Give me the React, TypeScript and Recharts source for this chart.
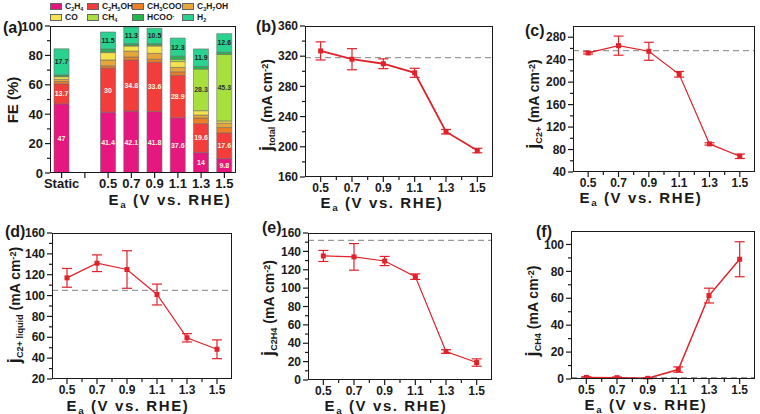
import React from "react";
import {
  BarChart,
  Bar,
  LineChart,
  Line,
  XAxis,
  YAxis,
  ErrorBar,
  ReferenceLine,
  LabelList,
} from "recharts";

// panel (a): Faradaic efficiency (%)
const categories = ["Static", "", "0.5", "0.7", "0.9", "1.1", "1.3", "1.5"];
const feC2H4 = [47, null, 41.4, 42.1, 41.8, 37.6, 14, 9.8];
const feC2H5OH = [13.7, null, 30, 34.8, 33.6, 28.9, 19.6, 17.6];
const feCH3COO = [1.5, null, 1.5, 2, 2, 2.3, 3.8, 3.5];
const feC3H7OH = [1.5, null, 4, 4, 4, 3, 2, 3];
const feCO = [1.8, null, 5, 3.5, 5, 4, 3, 1.5];
const feCH4 = [0.3, null, 0.5, 0.4, 0.6, 1.5, 28.3, 45.3];
const feHCOO = [1, null, 2, 1.2, 1, 2.2, 1.8, 1.5];
const feH2 = [17.7, null, 11.5, 11.3, 10.5, 12.3, 11.9, 12.6];

// panels (b)-(f): partial current densities vs Ea
const potentials = [0.5, 0.7, 0.9, 1.1, 1.3, 1.5];
const jTotal = [327, 316, 310, 298, 220, 195];
const jTotalErr = [12, 14, 6.5, 6, 3, 3];
const jC2 = [252, 265, 255, 214, 90, 68];
const jC2Err = [2, 17, 16, 5, 2, 4];
const jLiquid = [117, 131, 125, 101, 59.5, 48.5];
const jLiquidErr = [9, 8, 18, 10, 4, 9];
const jC2H4 = [135, 134, 129.5, 112.5, 31, 19];
const jC2H4Err = [6, 14.5, 5, 3, 2, 4];
const jCH4 = [1.2, 1.0, 0.5, 7, 62, 89];
const jCH4Err = [0.5, 0.5, 0.3, 2, 5.5, 13];
// static-electrolysis reference values (dashed lines)
const staticTotal = 318;
const staticC2 = 256;
const staticLiquid = 105;
const staticC2H4 = 152;
const staticCH4 = 1;

const xMajor = [0.5, 0.7, 0.9, 1.1, 1.3, 1.5];
const xMinor = [0.6, 0.8, 1.0, 1.2, 1.4];

const FONT = "'Liberation Sans', Arial, sans-serif";
const INK = "#1a1a1a";
const RED = "#e0222a";

const products = [
  { key: "C2H4", color: "#e6177f", values: feC2H4 },
  { key: "C2H5OH", color: "#f23d3b", values: feC2H5OH },
  { key: "CH3COO", color: "#f07e22", values: feCH3COO },
  { key: "C3H7OH", color: "#e6a63a", values: feC3H7OH },
  { key: "CO", color: "#f6e24c", values: feCO },
  { key: "CH4", color: "#a7e03c", values: feCH4 },
  { key: "HCOO", color: "#1fb84c", values: feHCOO },
  { key: "H2", color: "#29d38f", values: feH2 },
];

const barData = categories.map((cat, i) => {
  const row: any = { cat };
  products.forEach((p) => (row[p.key] = p.values[i]));
  return row;
});

const near = (a: number, list: number[]) => list.some((v) => Math.abs(v - a) < 1e-6);

function makeYTick(majors: number[], fontSize: number) {
  return (props: any) => {
    const { x, y, payload } = props;
    const major = near(payload.value, majors);
    return (
      <g>
        <line x1={x} x2={x - (major ? 5 : 3)} y1={y} y2={y} stroke={INK} strokeWidth={1.2} />
        {major && (
          <text x={x - 7} y={y} dy="0.35em" textAnchor="end" fontSize={fontSize} fontWeight="bold" fill={INK} fontFamily={FONT}>
            {payload.value}
          </text>
        )}
      </g>
    );
  };
}

function makeXTick(majors: number[] | null, fontSize: number) {
  return (props: any) => {
    const { x, y, payload } = props;
    const major = majors ? near(payload.value, majors) : true;
    const label = majors ? payload.value.toFixed(1) : payload.value;
    return (
      <g>
        <line x1={x} x2={x} y1={y} y2={y + (major ? 5 : 3)} stroke={INK} strokeWidth={1.2} />
        {major && (
          <text x={x} y={y + 6} dy="0.71em" textAnchor="middle" fontSize={fontSize} fontWeight="bold" fill={INK} fontFamily={FONT}>
            {label}
          </text>
        )}
      </g>
    );
  };
}

const Square = (props: any) => {
  const { cx, cy, index } = props;
  if (cx == null || cy == null) return <g key={index} />;
  return <rect key={index} x={cx - 2.5} y={cy - 2.5} width={5} height={5} fill={RED} />;
};

const Frame = ({ l, t, r, b }: { l: number; t: number; r: number; b: number }) => (
  <div
    style={{
      position: "absolute",
      left: l,
      top: t,
      width: r - l,
      height: b - t,
      border: `1.2px solid ${INK}`,
      boxSizing: "border-box",
      pointerEvents: "none",
    }}
  />
);

const text: React.CSSProperties = {
  position: "absolute",
  fontFamily: FONT,
  fontWeight: "bold",
  color: INK,
  whiteSpace: "nowrap",
  lineHeight: 1,
};

// sub/superscripts that do not grow the line box
const Sub = ({ children }: { children: React.ReactNode }) => (
  <span style={{ fontSize: "0.65em", position: "relative", top: "0.3em" }}>{children}</span>
);
const Sup = ({ children }: { children: React.ReactNode }) => (
  <span style={{ fontSize: "0.65em", position: "relative", top: "-0.45em" }}>{children}</span>
);

const YTitle = ({ cx, cy, size = 14, children }: { cx: number; cy: number; size?: number; children: React.ReactNode }) => (
  <div style={{ ...text, left: cx, top: cy, fontSize: size, transform: "translate(-50%, -50%) rotate(-90deg)" }}>{children}</div>
);

const XTitle = ({ cx, cy }: { cx: number; cy: number }) => (
  <div style={{ ...text, left: cx, top: cy, fontSize: 15, letterSpacing: 1.6, transform: "translate(-50%, -50%)" }}>
    E<Sub>a</Sub> (V vs. RHE)
  </div>
);

const Letter = ({ x, y, children }: { x: number; y: number; children: React.ReactNode }) => (
  <div style={{ ...text, left: x, top: y, fontSize: 16, transform: "translateY(-50%)" }}>{children}</div>
);

type PanelProps = {
  box: { l: number; t: number; r: number; b: number };
  values: number[];
  errors: number[];
  dash: number;
  yDomain: [number, number];
  yMajor: number[];
  yMinor: number[];
  strokeWidth?: number;
};

function LinePanel({ box, values, errors, dash, yDomain, yMajor, yMinor, strokeWidth = 1.5 }: PanelProps) {
  const data = potentials.map((x, i) => ({ x, y: values[i], err: errors[i] }));
  const padL = 50, padT = 8, padR = 6, padB = 24;
  const w = box.r - box.l + padL + padR;
  const h = box.b - box.t + padT + padB;
  return (
    <>
      <div style={{ position: "absolute", left: box.l - padL, top: box.t - padT }}>
        <LineChart width={w} height={h} data={data} margin={{ top: padT, right: padR, bottom: 2, left: 10 }}>
          <XAxis
            dataKey="x"
            type="number"
            domain={[0.4, 1.6]}
            allowDataOverflow
            ticks={[...xMajor, ...xMinor].sort((a, b) => a - b)}
            interval={0}
            height={22}
            axisLine={false}
            tickLine={false}
            tickSize={0}
            tickMargin={0}
            tick={makeXTick(xMajor, 12)}
          />
          <YAxis
            type="number"
            domain={yDomain}
            allowDataOverflow
            ticks={[...yMajor, ...yMinor].sort((a, b) => a - b)}
            interval={0}
            width={40}
            axisLine={false}
            tickLine={false}
            tickSize={0}
            tickMargin={0}
            tick={makeYTick(yMajor, 12)}
          />
          <ReferenceLine y={dash} stroke="#9a9a9a" strokeWidth={1.2} strokeDasharray="6 4" />
          <Line
            type="linear"
            dataKey="y"
            stroke={RED}
            strokeWidth={strokeWidth}
            dot={Square}
            activeDot={false}
            isAnimationActive={false}
          >
            <ErrorBar dataKey="err" width={5} stroke={RED} strokeWidth={1.2} direction="y" />
          </Line>
        </LineChart>
      </div>
      <Frame {...box} />
    </>
  );
}

const labelStyle = { fontSize: 7, fontWeight: "bold", fontFamily: FONT };
const showAll = (v: any) => (v == null ? "" : v);
const showBig = (v: any) => (v == null || v < 10 ? "" : v);

function FEPanel() {
  const box = { l: 50, t: 26, r: 236, b: 173 };
  const padL = 50, padT = 8, padR = 6, padB = 24;
  const w = box.r - box.l + padL + padR;
  const h = box.b - box.t + padT + padB;
  return (
    <>
      <div style={{ position: "absolute", left: box.l - padL, top: box.t - padT }}>
        <BarChart width={w} height={h} data={barData} margin={{ top: padT, right: padR, bottom: 2, left: 10 }}>
          <XAxis
            dataKey="cat"
            type="category"
            interval={0}
            height={22}
            axisLine={false}
            tickLine={false}
            tickSize={0}
            tickMargin={0}
            tick={makeXTick(null, 13)}
          />
          <YAxis
            type="number"
            domain={[0, 100]}
            allowDataOverflow
            ticks={[0, 10, 20, 30, 40, 50, 60, 70, 80, 90, 100]}
            interval={0}
            width={40}
            axisLine={false}
            tickLine={false}
            tickSize={0}
            tickMargin={0}
            tick={makeYTick([0, 20, 40, 60, 80, 100], 13)}
          />
          {products.map((p) => (
            <Bar key={p.key} dataKey={p.key} stackId="fe" fill={p.color} stroke="#6b6b6b" strokeWidth={0.6} barSize={15} isAnimationActive={false}>
              {(p.key === "C2H4" || p.key === "C2H5OH") && (
                <LabelList dataKey={p.key} position="center" fill="#fff8e0" formatter={showAll} style={labelStyle} />
              )}
              {p.key === "CH4" && <LabelList dataKey={p.key} position="center" fill="#333" formatter={showBig} style={labelStyle} />}
              {p.key === "H2" && <LabelList dataKey={p.key} position="center" fill="#222" formatter={showAll} style={labelStyle} />}
            </Bar>
          ))}
        </BarChart>
      </div>
      <Frame {...box} />
    </>
  );
}

const legendItems: { color: string; label: React.ReactNode }[] = [
  { color: products[0].color, label: <>C<Sub>2</Sub>H<Sub>4</Sub></> },
  { color: products[1].color, label: <>C<Sub>2</Sub>H<Sub>5</Sub>OH</> },
  { color: products[2].color, label: <>CH<Sub>3</Sub>COO<Sup>-</Sup></> },
  { color: products[3].color, label: <>C<Sub>3</Sub>H<Sub>7</Sub>OH</> },
  { color: products[4].color, label: <>CO</> },
  { color: products[5].color, label: <>CH<Sub>4</Sub></> },
  { color: products[6].color, label: <>HCOO<Sup>-</Sup></> },
  { color: products[7].color, label: <>H<Sub>2</Sub></> },
];
const legendCols = [50, 87, 132, 182];
const legendRows = [6, 17];

function FELegend() {
  return (
    <>
      {legendItems.map((it, i) => {
        const x = legendCols[i % 4];
        const y = legendRows[Math.floor(i / 4)];
        return (
          <React.Fragment key={i}>
            <div style={{ position: "absolute", left: x, top: y - 3.5, width: 12, height: 7, background: it.color, border: "0.6px solid #666", boxSizing: "border-box" }} />
            <div style={{ ...text, left: x + 15, top: y, fontSize: 8.5, transform: "translateY(-50%)" }}>{it.label}</div>
          </React.Fragment>
        );
      })}
    </>
  );
}

const mAcm = (
  <>
    {" "}(mA cm<Sup>-2</Sup>)
  </>
);

const J = ({ s }: { s: string }) => (
  <>
    <span style={{ fontSize: "1.3em" }}>j</span>
    <Sub>{s}</Sub>
  </>
);

export default function App() {
  return (
    <div style={{ position: "absolute", left: 0, top: 0, width: 760, height: 414, background: "#fff", overflow: "hidden", fontFamily: FONT }}>
      <FELegend />
      <FEPanel />
      <Letter x={3} y={28}>(a)</Letter>
      <YTitle cx={12} cy={100} size={15}>FE (%)</YTitle>
      <XTitle cx={170} cy={199} />

      <LinePanel
        box={{ l: 305, t: 26, r: 493, b: 177 }}
        values={jTotal}
        errors={jTotalErr}
        dash={staticTotal}
        yDomain={[160, 360]}
        yMajor={[160, 200, 240, 280, 320, 360]}
        yMinor={[180, 220, 260, 300, 340]}
        strokeWidth={1.8}
      />
      <Letter x={256} y={27}>(b)</Letter>
      <YTitle cx={266} cy={105}>
        <J s="total" />
        {mAcm}
      </YTitle>
      <XTitle cx={382} cy={202} />

      <LinePanel
        box={{ l: 573, t: 26, r: 755, b: 172 }}
        values={jC2}
        errors={jC2Err}
        dash={staticC2}
        yDomain={[40, 300]}
        yMajor={[40, 80, 120, 160, 200, 240, 280]}
        yMinor={[60, 100, 140, 180, 220, 260]}
        strokeWidth={1.2}
      />
      <Letter x={525} y={31}>(c)</Letter>
      <YTitle cx={533} cy={104}>
        <J s="C2+" />
        {mAcm}
      </YTitle>
      <XTitle cx={641} cy={197} />

      <LinePanel
        box={{ l: 52, t: 233, r: 232, b: 379 }}
        values={jLiquid}
        errors={jLiquidErr}
        dash={staticLiquid}
        yDomain={[20, 160]}
        yMajor={[20, 40, 60, 80, 100, 120, 140, 160]}
        yMinor={[30, 50, 70, 90, 110, 130, 150]}
        strokeWidth={1.2}
      />
      <Letter x={5} y={232}>(d)</Letter>
      <YTitle cx={14} cy={305}>
        <J s="C2+ liquid" />
        {mAcm}
      </YTitle>
      <XTitle cx={128} cy={405} />

      <LinePanel
        box={{ l: 308, t: 233, r: 492, b: 380 }}
        values={jC2H4}
        errors={jC2H4Err}
        dash={staticC2H4}
        yDomain={[0, 160]}
        yMajor={[0, 20, 40, 60, 80, 100, 120, 140, 160]}
        yMinor={[10, 30, 50, 70, 90, 110, 130, 150]}
        strokeWidth={1.2}
      />
      <Letter x={262} y={228}>(e)</Letter>
      <YTitle cx={268} cy={308}>
        <J s="C2H4" />
        {mAcm}
      </YTitle>
      <XTitle cx={386} cy={405} />

      <LinePanel
        box={{ l: 571, t: 231, r: 755, b: 379 }}
        values={jCH4}
        errors={jCH4Err}
        dash={staticCH4}
        yDomain={[0, 110]}
        yMajor={[0, 20, 40, 60, 80, 100]}
        yMinor={[10, 30, 50, 70, 90]}
        strokeWidth={1.5}
      />
      <Letter x={536} y={232}>(f)</Letter>
      <YTitle cx={532} cy={311}>
        <J s="CH4" />
        {mAcm}
      </YTitle>
      <XTitle cx={646} cy={404} />
    </div>
  );
}
